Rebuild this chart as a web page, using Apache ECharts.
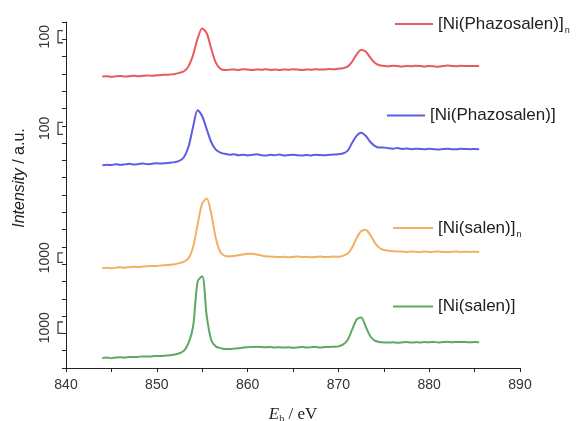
<!DOCTYPE html>
<html><head><meta charset="utf-8">
<script src="https://cdn.jsdelivr.net/npm/echarts@6/dist/echarts.min.js"></script>
<style>html,body{margin:0;padding:0;background:#fff}#c{width:577px;height:421px}</style>
</head><body><div id="c"></div>
<script>
// Binding energy (eV)
const energies = [
 844,844.5,845,845.5,846,846.5,847,847.5,848,848.5,
 849,849.5,850,850.5,851,851.5,852,852.5,853,853.5,
 854,854.5,855,855.5,856,856.5,857,857.5,858,858.5,
 859,859.5,860,860.5,861,861.5,862,862.5,863,863.5,
 864,864.5,865,865.5,866,866.5,867,867.5,868,868.5,
 869,869.5,870,870.5,871,871.5,872,872.5,873,873.5,
 874,874.5,875,875.5,876,876.5,877,877.5,878,878.5,
 879,879.5,880,880.5,881,881.5,882,882.5,883,883.5,
 884,884.5,885,885.5];
// Offset (stacked) intensities, in y-axis units
const niPhazosalenN = [
 16.85,16.87,16.84,16.86,16.88,16.85,16.87,16.89,16.86,16.90,
 16.91,16.89,16.92,16.94,16.95,16.97,17.00,17.06,17.15,17.45,
 18.10,19.05,19.62,19.35,18.45,17.65,17.30,17.22,17.24,17.26,
 17.23,17.27,17.25,17.22,17.26,17.24,17.27,17.23,17.25,17.22,
 17.26,17.24,17.27,17.25,17.23,17.26,17.24,17.27,17.25,17.26,
 17.28,17.27,17.30,17.33,17.42,17.70,18.12,18.38,18.30,17.95,
 17.65,17.50,17.46,17.44,17.47,17.45,17.43,17.46,17.44,17.47,
 17.45,17.43,17.46,17.44,17.42,17.45,17.48,17.46,17.44,17.47,
 17.46,17.45,17.46,17.45];
const niPhazosalen = [
 11.72,11.75,11.73,11.78,11.74,11.77,11.80,11.76,11.79,11.82,
 11.78,11.81,11.83,11.82,11.84,11.86,11.90,11.98,12.20,12.80,
 13.95,14.90,14.55,13.80,13.05,12.62,12.45,12.38,12.33,12.36,
 12.30,12.33,12.29,12.32,12.35,12.30,12.28,12.32,12.30,12.34,
 12.29,12.31,12.33,12.30,12.28,12.31,12.29,12.33,12.31,12.30,
 12.32,12.34,12.36,12.40,12.55,13.00,13.42,13.60,13.42,13.08,
 12.84,12.74,12.75,12.70,12.68,12.71,12.66,12.69,12.65,12.68,
 12.66,12.64,12.67,12.65,12.63,12.66,12.68,12.65,12.64,12.67,
 12.66,12.65,12.66,12.65];
const niSalenN = [
 5.78,5.80,5.77,5.80,5.82,5.80,5.83,5.85,5.84,5.87,
 5.88,5.90,5.90,5.93,5.95,5.97,6.00,6.06,6.15,6.35,
 7.00,8.30,9.50,9.80,8.90,7.50,6.70,6.48,6.45,6.48,
 6.52,6.56,6.60,6.60,6.56,6.50,6.46,6.44,6.43,6.41,
 6.43,6.40,6.42,6.44,6.41,6.43,6.40,6.42,6.44,6.41,
 6.42,6.44,6.43,6.48,6.60,6.95,7.50,7.90,7.97,7.70,
 7.25,6.95,6.82,6.78,6.75,6.73,6.74,6.71,6.73,6.72,
 6.70,6.73,6.71,6.72,6.74,6.71,6.70,6.72,6.73,6.71,
 6.72,6.71,6.72,6.71];
const niSalen = [
 0.58,0.60,0.57,0.61,0.62,0.60,0.64,0.63,0.65,0.67,
 0.66,0.68,0.69,0.70,0.72,0.74,0.78,0.85,1.00,1.45,
 2.40,5.00,5.30,3.00,1.60,1.25,1.15,1.10,1.10,1.12,
 1.14,1.18,1.20,1.22,1.23,1.21,1.20,1.22,1.19,1.20,
 1.18,1.20,1.17,1.19,1.21,1.18,1.20,1.22,1.19,1.21,
 1.22,1.23,1.25,1.35,1.60,2.20,2.80,2.92,2.40,1.85,
 1.58,1.50,1.48,1.47,1.49,1.46,1.48,1.50,1.47,1.49,
 1.48,1.50,1.49,1.51,1.48,1.50,1.52,1.49,1.51,1.50,
 1.50,1.49,1.50,1.49];
// Intensity scale bars (top, bottom in y-axis units) and their labels
const scaleBarTop = [19.5, 14.2, 6.65, 2.66];
const scaleBarBottom = [18.8, 13.5, 6.1, 2.0];
const scaleBarLabels = ['100', '100', '1000', '1000'];
const seriesNames = ['[Ni(Phazosalen)]n', '[Ni(Phazosalen)]', '[Ni(salen)]n', '[Ni(salen)]'];
const xTicks = [840, 850, 860, 870, 880, 890];

const colors = ['#e85a5f', '#5c5ce6', '#f3af62', '#5ea862'];
const seriesData = [niPhazosalenN, niPhazosalen, niSalenN, niSalen];
const legendTops = [13, 107, 217, 298];
const legendLefts = [395, 387, 393, 393];
const iconW = [38, 38, 40, 40];

const chart = echarts.init(document.getElementById('c'), null, {renderer: 'canvas'});
const FONT = 'Liberation Sans, Arial, sans-serif';

const series = seriesData.map((vals, i) => ({
  name: seriesNames[i],
  type: 'line',
  data: energies.map((e, k) => [e, vals[k]]),
  showSymbol: false,
  symbol: 'none',
  smooth: 0.3,
  lineStyle: {color: colors[i], width: 2},
  itemStyle: {color: colors[i]},
  z: 3
}));

series.push({
  type: 'custom',
  name: 'scalebars',
  clip: false,
  silent: true,
  encode: {x: 0, y: [1, 2]},
  data: scaleBarTop.map((t, i) => [840, t, scaleBarBottom[i]]),
  renderItem: function (params, api) {
    const top = api.coord([api.value(0), api.value(1)]);
    const bot = api.coord([api.value(0), api.value(2)]);
    const x = top[0] - 8;
    return {
      type: 'group',
      children: [
        {type: 'polyline', shape: {points: [[x + 5, top[1]], [x, top[1]], [x, bot[1]], [x + 5, bot[1]]]},
         style: {stroke: '#444', fill: null, lineWidth: 1.3}},
        {type: 'text', x: x - 13, y: (top[1] + bot[1]) / 2, rotation: Math.PI / 2,
         style: {text: scaleBarLabels[params.dataIndex], fill: '#333', font: '14px ' + FONT,
                 align: 'center', verticalAlign: 'middle'}}
      ]
    };
  }
});

const legends = seriesNames.map((n, i) => ({
  data: [n],
  left: legendLefts[i],
  top: legendTops[i],
  padding: 0,
  icon: 'rect',
  itemWidth: iconW[i],
  itemHeight: 2,
  selectedMode: false,
  formatter: function (name) {
    if (name.endsWith('n')) return '{a|' + name.slice(0, -1) + '}{s|n}';
    return '{a|' + name + '}';
  },
  textStyle: {
    color: '#222',
    rich: {
      a: {fontSize: 17, fontFamily: FONT, color: '#222', lineHeight: 20},
      s: {fontSize: 9, fontFamily: FONT, color: '#222', padding: [13, 0, 0, 1], lineHeight: 20}
    }
  }
}));

chart.setOption({
  animation: false,
  backgroundColor: '#fff',
  grid: {left: 66, right: 57, top: 22, bottom: 53, containLabel: false, outerBoundsMode: 'none'},
  legend: legends,
  xAxis: {
    type: 'value', min: 840, max: 890, interval: 10,
    axisLine: {lineStyle: {color: '#222', width: 1}},
    axisTick: {show: true, length: 4, lineStyle: {color: '#222'}},
    minorTick: {show: true, splitNumber: 2, length: 4, lineStyle: {color: '#222'}},
    splitLine: {show: false},
    axisLabel: {color: '#333', fontSize: 14, fontFamily: FONT, margin: 10,
      formatter: v => (xTicks.indexOf(v) >= 0 ? String(v) : '')},
    name: '{i|E}{b|b}{n| / eV}',
    nameLocation: 'middle', nameGap: 37,
    nameTextStyle: {
      rich: {
        i: {fontFamily: 'Liberation Serif, serif', fontStyle: 'italic', fontSize: 17, color: '#222'},
        b: {fontFamily: 'Liberation Serif, serif', fontSize: 10, color: '#222', padding: [9, 0, 0, 0]},
        n: {fontFamily: 'Liberation Serif, serif', fontSize: 17, color: '#222'}
      }
    }
  },
  yAxis: {
    type: 'value', min: 0, max: 20, interval: 1,
    axisLine: {show: true, lineStyle: {color: '#222', width: 1}},
    axisTick: {show: true, length: 4, lineStyle: {color: '#222'}},
    axisLabel: {show: false},
    splitLine: {show: false}
  },
  graphic: [{
    type: 'text',
    rotation: Math.PI / 2,
    x: 20, y: 178,
    style: {
      text: '{i|Intensity}{n| / a.u.}',
      align: 'center', verticalAlign: 'middle',
      rich: {
        i: {fontStyle: 'italic', fontSize: 16, fontFamily: FONT, fill: '#222'},
        n: {fontSize: 16, fontFamily: FONT, fill: '#222'}
      }
    }
  }],
  series: series
});
</script></body></html>
